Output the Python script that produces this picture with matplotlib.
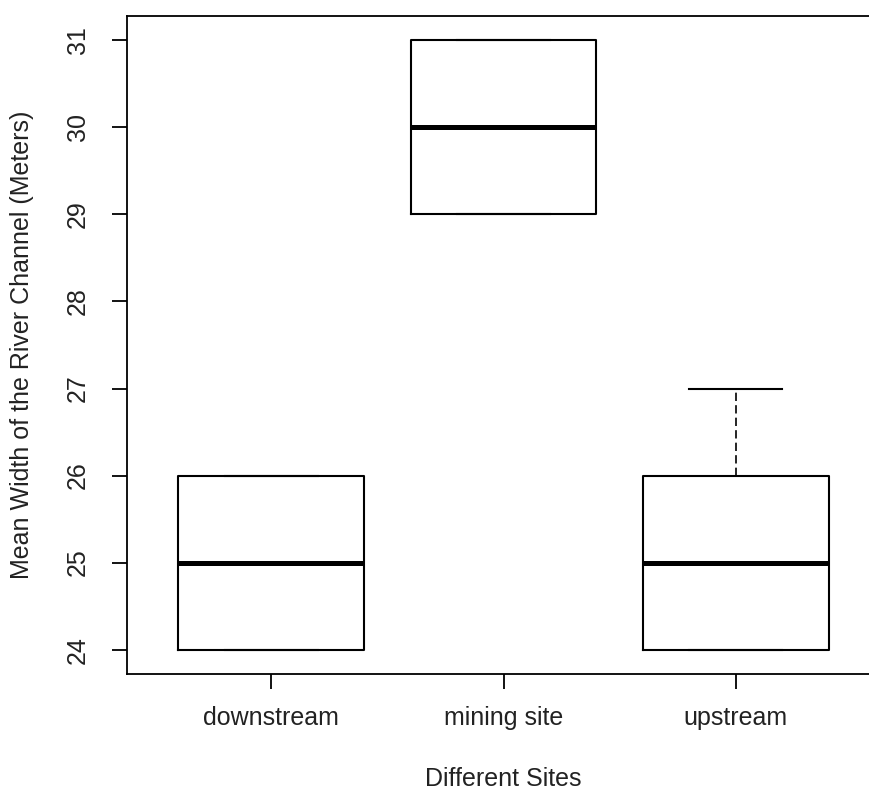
import matplotlib
matplotlib.use("Agg")
import matplotlib.pyplot as plt

sites = ["downstream", "mining site", "upstream"]
whislo = [24, 29, 24]
q1 = [24, 29, 24]
med = [25, 30, 25]
q3 = [26, 31, 26]
whishi = [26, 31, 27]
yticks = [24, 25, 26, 27, 28, 29, 30, 31]

plt.rcParams['font.family'] = ['Liberation Sans', 'DejaVu Sans']
txt = '#222222'

fig = plt.figure(figsize=(8.69, 7.94), dpi=100)
ax = fig.add_axes([127/869, 120/794, 753/869, 658/794])

stats = [dict(label=s, whislo=a, q1=b, med=c, q3=d, whishi=e, fliers=[])
         for s, a, b, c, d, e in zip(sites, whislo, q1, med, q3, whishi)]
positions = list(range(1, len(sites) + 1))
ax.bxp(stats, positions=positions, widths=0.8, capwidths=0.4, showfliers=False,
       boxprops=dict(color='black', linewidth=1.5),
       medianprops=dict(color='black', linewidth=3.6, solid_capstyle='butt'),
       whiskerprops=dict(color='black', linewidth=1.2, linestyle=(0, (5, 2.5))),
       capprops=dict(color='black', linewidth=1.5))

ax.set_xlim(0.38, 3.62)
ax.set_ylim(23.72, 31.28)
ax.set_yticks(yticks)
ax.set_yticklabels([str(v) for v in yticks], rotation=90, va='center')
ax.set_xticks(positions)
ax.set_xticklabels(sites)

ax.tick_params(axis='both', direction='out', length=10.5, width=1.3, labelsize=18,
               color='black', labelcolor=txt)
ax.tick_params(axis='y', pad=16)
ax.tick_params(axis='x', pad=12.5)
for sp in ax.spines.values():
    sp.set_linewidth(1.3)

ax.set_xlabel("Different Sites", fontsize=18, color=txt)
ax.set_ylabel("Mean Width of the River Channel (Meters)", fontsize=18, color=txt)
ax.xaxis.set_label_coords(0.5, (674 - 779) / 658)
ax.xaxis.label.set_va('center')
ax.yaxis.set_label_coords((22 - 127) / 753, 0.5)
ax.yaxis.label.set_va('center')

fig.savefig("out.png", dpi=100)
